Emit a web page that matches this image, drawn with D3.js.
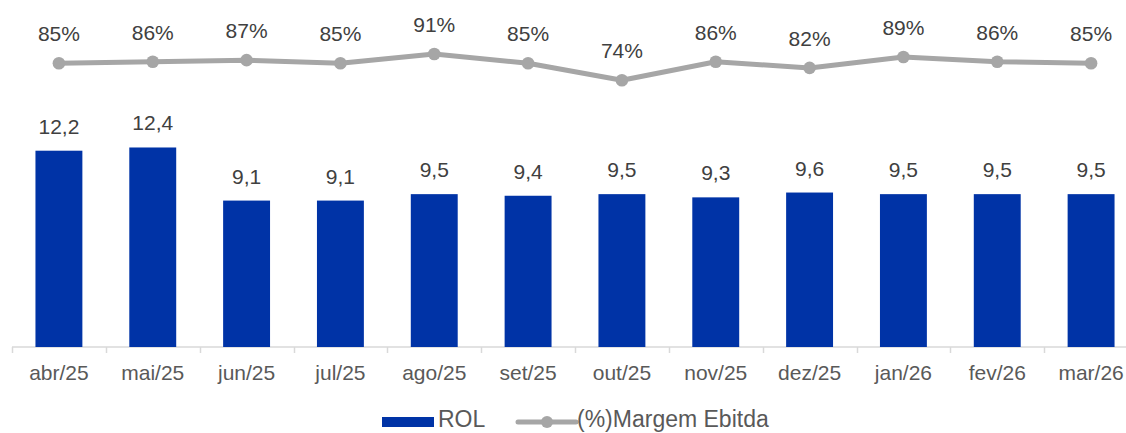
<!DOCTYPE html>
<html>
<head>
<meta charset="utf-8">
<script src="https://cdn.jsdelivr.net/npm/d3@7"></script>
<style>
  html, body { margin: 0; padding: 0; background: #fff; }
  svg { display: block; }
</style>
</head>
<body>
<script>
const months = ["abr/25", "mai/25", "jun/25", "jul/25", "ago/25", "set/25",
                "out/25", "nov/25", "dez/25", "jan/26", "fev/26", "mar/26"];
const rol = [12.2, 12.4, 9.1, 9.1, 9.5, 9.4, 9.5, 9.3, 9.6, 9.5, 9.5, 9.5];
const margem = [85, 86, 87, 85, 91, 85, 74, 86, 82, 89, 86, 85];
const seriesNames = ["ROL", "(%)Margem Ebitda"];

const width = 1126;
const height = 433;
const font = "'Liberation Sans', Arial, sans-serif";
const barColor = "#0033a6";
const lineColor = "#a6a6a6";
const fmt = v => v.toFixed(1).replace(".", ",");

const svg = d3.select("body").append("svg")
    .attr("width", width)
    .attr("height", height)
    .style("font-family", font);

// bands run a little past the right edge, like the original
const x = d3.scaleBand()
    .domain(months)
    .range([12, 1138])
    .paddingInner(0.5)
    .paddingOuter(0.25);

const y = d3.scaleLinear().domain([0, 14]).range([347, 347 - 16.09 * 14]);
const y2 = d3.scaleLinear().domain([0, 100]).range([195, 40]);

const step = x.step();
const cx = d => x(d) + x.bandwidth() / 2;

// axis
const axisY = 347;
svg.append("line")
    .attr("x1", 12).attr("x2", width)
    .attr("y1", axisY).attr("y2", axisY)
    .attr("stroke", "#d9d9d9").attr("stroke-width", 1.5);

svg.append("g")
    .selectAll("line")
    .data(months)
    .join("line")
    .attr("x1", d => Math.round(x(d) - step * 0.25) + 0.5)
    .attr("x2", d => Math.round(x(d) - step * 0.25) + 0.5)
    .attr("y1", axisY).attr("y2", axisY + 6)
    .attr("stroke", "#d9d9d9").attr("stroke-width", 1.5);

const xAxis = svg.append("g")
    .attr("transform", `translate(0,${axisY})`)
    .call(d3.axisBottom(x).tickSize(0).tickPadding(0));
xAxis.select(".domain").remove();
xAxis.selectAll("text")
    .attr("y", 33)
    .attr("dy", 0)
    .attr("fill", "#595959")
    .style("font-family", font)
    .style("font-size", "21px");

// bars
svg.append("g")
    .selectAll("rect")
    .data(months)
    .join("rect")
    .attr("x", d => x(d))
    .attr("width", x.bandwidth())
    .attr("y", (d, i) => y(rol[i]))
    .attr("height", (d, i) => y(0) - y(rol[i]))
    .attr("fill", barColor);

svg.append("g")
    .selectAll("text")
    .data(months)
    .join("text")
    .attr("x", d => cx(d))
    .attr("y", (d, i) => y(rol[i]) - 17)
    .attr("text-anchor", "middle")
    .attr("fill", "#404040")
    .style("font-size", "21px")
    .text((d, i) => fmt(rol[i]));

// margin line
const line = d3.line()
    .x(d => cx(d))
    .y((d, i) => y2(margem[i]));

svg.append("path")
    .datum(months)
    .attr("d", line)
    .attr("fill", "none")
    .attr("stroke", lineColor)
    .attr("stroke-width", 5)
    .attr("stroke-linejoin", "round");

svg.append("g")
    .selectAll("circle")
    .data(months)
    .join("circle")
    .attr("cx", d => cx(d))
    .attr("cy", (d, i) => y2(margem[i]))
    .attr("r", 6.3)
    .attr("fill", lineColor);

svg.append("g")
    .selectAll("text")
    .data(months)
    .join("text")
    .attr("x", d => cx(d))
    .attr("y", (d, i) => y2(margem[i]) - 22)
    .attr("text-anchor", "middle")
    .attr("fill", "#404040")
    .style("font-size", "21px")
    .text((d, i) => margem[i] + "%");

// legend
const legend = svg.append("g");
legend.append("rect")
    .attr("x", 382).attr("y", 417)
    .attr("width", 52).attr("height", 10)
    .attr("fill", barColor);
legend.append("text")
    .attr("x", 438).attr("y", 427)
    .attr("fill", "#595959")
    .style("font-size", "23px")
    .text(seriesNames[0]);
legend.append("line")
    .attr("x1", 518).attr("x2", 576)
    .attr("y1", 422).attr("y2", 422)
    .attr("stroke", lineColor).attr("stroke-width", 5)
    .attr("stroke-linecap", "round");
legend.append("circle")
    .attr("cx", 547).attr("cy", 422).attr("r", 6)
    .attr("fill", lineColor);
legend.append("text")
    .attr("x", 577).attr("y", 427)
    .attr("fill", "#595959")
    .style("font-size", "23px")
    .text(seriesNames[1]);
</script>
</body>
</html>
